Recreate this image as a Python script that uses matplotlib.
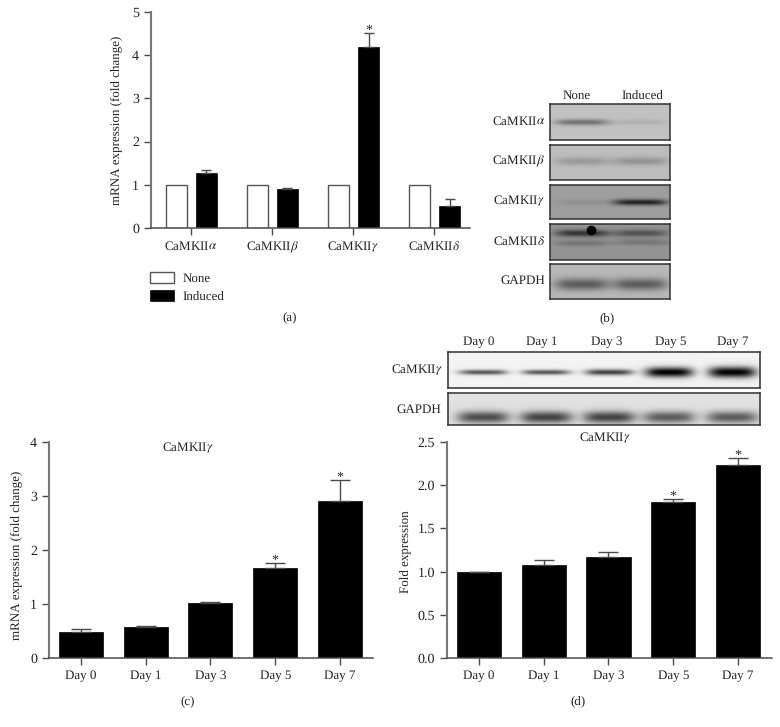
import numpy as np
import matplotlib
matplotlib.use('Agg')
import matplotlib.pyplot as plt

plt.rcParams['font.family'] = ['Liberation Serif', 'DejaVu Serif']
plt.rcParams['mathtext.fontset'] = 'stix'
plt.rcParams['font.size'] = 9
plt.rcParams['text.hinting'] = 'no_hinting'
plt.rcParams['text.hinting_factor'] = 1

# panel a
genes = [r'CaMKII$\alpha$', r'CaMKII$\beta$', r'CaMKII$\gamma$', r'CaMKII$\delta$']
none_vals = [1, 1, 1, 1]
induced_vals = [1.28, 0.90, 4.20, 0.52]
induced_err = [0.06, 0.02, 0.32, 0.14]
a_star = [False, False, True, False]

# panel c
days = ['Day 0', 'Day 1', 'Day 3', 'Day 5', 'Day 7']
mrna_vals = [0.49, 0.57, 1.02, 1.67, 2.90]
mrna_err = [0.05, 0.03, 0.02, 0.09, 0.40]
c_star = [False, False, False, True, True]

# panel d
fold_vals = [1.00, 1.08, 1.17, 1.81, 2.23]
fold_err = [0.0, 0.05, 0.06, 0.03, 0.09]
d_star = [False, False, False, True, True]

# blot band strengths (lane 1, lane 2 ...), read by eye
blot_b_rows = ['CaMKII$\\alpha$', 'CaMKII$\\beta$', 'CaMKII$\\gamma$', 'CaMKII$\\delta$', 'GAPDH']
blot_b_bg = [0.76, 0.74, 0.62, 0.58, 0.72]
blot_b_bands = [[0.32, 0.07], [0.14, 0.17], [0.05, 0.50], [0.38, 0.26], [0.36, 0.36]]
blot_d_bg = [0.95, 0.88]
blot_d_bands = [[0.62, 0.62, 0.70, 0.95, 0.95], [0.58, 0.62, 0.62, 0.52, 0.52]]
blot_d_thick = [2.5, 2.5, 3, 5, 5.5]

W, H = 780, 727
fig = plt.figure(figsize=(W / 100, H / 100), dpi=100)
AXC = '#4a4a4a'
TXT = '#222222'


def px_axes(x0, y0, x1, y1):
    return fig.add_axes([x0 / W, 1 - y1 / H, (x1 - x0) / W, (y1 - y0) / H])


def px_text(x, y, s, ha='center', **kw):
    fig.text(x / W, 1 - y / H, s, ha=ha, va='center', color=TXT, **kw)


def style(ax, ymax, yticks, ylabels, xlabels, xsize=9.5):
    for s in ['top', 'right']:
        ax.spines[s].set_visible(False)
    ax.spines['left'].set_linewidth(1.5)
    ax.spines['left'].set_color('#777777')
    ax.spines['bottom'].set_linewidth(1.1)
    ax.spines['bottom'].set_color(AXC)
    ax.set_ylim(0, ymax)
    ax.set_yticks(yticks)
    ax.set_yticklabels(ylabels, fontsize=10, color=TXT)
    ax.set_xticks(range(len(xlabels)))
    ax.set_xticklabels(xlabels, fontsize=xsize, color=TXT)
    ax.tick_params(axis='both', length=5, width=1, color=AXC, pad=3.5)
    ax.patch.set_alpha(0)


def stars(ax, xs, tops, flags):
    for x, t, f in zip(xs, tops, flags):
        if f:
            ax.annotate('*', (x, t), xytext=(0, -3), textcoords='offset points',
                        ha='center', va='bottom', fontsize=10, color=TXT)


def day_panel(ax, vals, err, flags, ymax, yticks, ylabels):
    x = np.arange(len(vals))
    ax.bar(x, vals, width=0.68, color='black', edgecolor='black', linewidth=0.5)
    ax.errorbar(x, vals, yerr=[np.zeros(len(err)), err], fmt='none', ecolor=AXC,
                elinewidth=1, capsize=7.5, capthick=1)
    style(ax, ymax, yticks, ylabels, days, xsize=9.2)
    ax.set_xlim(-0.494, 4.51)
    stars(ax, x, np.array(vals) + np.array(err), flags)


def blot(box, bg, lanes, strengths, band_y, band_h, band_w, extra=None):
    # band_h: one height for all lanes, or one per lane
    x0, y0, x1, y1 = box
    ax = px_axes(x0, y0, x1, y1)
    xx, yy = np.meshgrid(np.arange(x0, x1, 0.5), np.arange(y0, y1, 0.5))
    img = np.full(xx.shape, bg, dtype=float)
    hs = band_h if isinstance(band_h, list) else [band_h] * len(lanes)
    for c, s, hh in zip(lanes, strengths, hs):
        img -= s * np.exp(-((xx - c) / band_w) ** 4) * np.exp(-((yy - band_y) / hh) ** 2)
    if extra:
        for c, s, yy0, hh in extra:
            img -= s * np.exp(-((xx - c) / band_w) ** 4) * np.exp(-((yy - yy0) / hh) ** 2)
    ax.imshow(np.clip(img, 0, 1), cmap='gray', vmin=0, vmax=1, aspect='auto',
              extent=[x0, x1, y1, y0], interpolation='bilinear')
    ax.set_xticks([])
    ax.set_yticks([])
    for s in ax.spines.values():
        s.set_linewidth(1.1)
        s.set_color('#303030')
    return ax


# (a)
ax_a = px_axes(151, 12, 470, 228)
xa = np.arange(len(genes))
ax_a.bar(xa - 0.179, none_vals, width=0.259, color='white', edgecolor='#555555', linewidth=1)
ax_a.bar(xa + 0.191, induced_vals, width=0.259, color='black', edgecolor='black', linewidth=0.5)
ax_a.errorbar(xa + 0.191, induced_vals, yerr=[np.zeros(4), induced_err], fmt='none',
              ecolor=AXC, elinewidth=1, capsize=3.4, capthick=1)
style(ax_a, 5, [0, 1, 2, 3, 4, 5], ['0', '1', '2', '3', '4', '5'], genes)
ax_a.set_xlim(-0.494, 3.444)
stars(ax_a, xa + 0.191, np.array(induced_vals) + np.array(induced_err), a_star)
hb = [plt.Rectangle((0, 0), 1, 1, facecolor='white', edgecolor='#555555', linewidth=1),
      plt.Rectangle((0, 0), 1, 1, facecolor='black', edgecolor='black', linewidth=0.5)]
fig.legend(hb, ['None', 'Induced'], loc='upper left', bbox_to_anchor=(150 / W, 1 - 272 / H),
           frameon=False, borderpad=0, borderaxespad=0, handlelength=1.85, handleheight=0.9,
           handletextpad=0.65, labelspacing=0.42, fontsize=9.5, labelcolor=TXT)
px_text(116, 120, 'mRNA expression (fold change)', rotation=90, fontsize=9.7)
px_text(290, 317, '(a)', fontsize=9.5)

# (b)
px_text(577, 96, 'None')
px_text(642, 96, 'Induced')
b_boxes = [(550, 104, 670, 140), (550, 145, 670, 180), (550, 185, 670, 219),
           (550, 224, 670, 260), (550, 264, 670, 299)]
b_band_y = [122, 161, 202, 233, 284]
b_h = [3, 4, 3, 3.5, 6]
b_extra = [None, None, None, [(582, 0.12, 243, 3), (642, 0.12, 242, 3)], None]
for i, box in enumerate(b_boxes):
    ax = blot(box, blot_b_bg[i], [582, 640], blot_b_bands[i], b_band_y[i], b_h[i], 27, b_extra[i])
    px_text(545, (box[1] + box[3]) / 2 - 1, blot_b_rows[i], ha='right', fontsize=9.5)
    if i == 3:
        ax.plot([591], [230], 'o', color='black', ms=6)
        ax.set_xlim(550, 670)
        ax.set_ylim(260, 224)
px_text(607, 318, '(b)', fontsize=9.5)

# (c)
ax_c = px_axes(49, 442, 373, 658)
day_panel(ax_c, mrna_vals, mrna_err, c_star, 4, [0, 1, 2, 3, 4], ['0', '1', '2', '3', '4'])
px_text(188, 448, r'CaMKII$\gamma$', fontsize=9.5)
px_text(16, 555, 'mRNA expression (fold change)', rotation=90, fontsize=9.7)
px_text(188, 701, '(c)', fontsize=9.5)

# (d)
for x, d in zip([479, 542, 607, 671, 733], days):
    px_text(x, 342, d, fontsize=9.2)
lanes_d = [483, 546, 609, 669, 732]
blot((448, 352, 760, 388), blot_d_bg[0], lanes_d, blot_d_bands[0], 372, blot_d_thick, 24)
blot((448, 393, 760, 425), blot_d_bg[1], lanes_d, blot_d_bands[1], 417, 6, 26)
px_text(443, 370, r'CaMKII$\gamma$', ha='right', fontsize=9.5)
px_text(441, 410, 'GAPDH', ha='right', fontsize=9.5)
ax_d = px_axes(447, 442, 772, 658)
day_panel(ax_d, fold_vals, fold_err, d_star, 2.5, [0, 0.5, 1, 1.5, 2, 2.5],
          ['0.0', '0.5', '1.0', '1.5', '2.0', '2.5'])
ax_d.set_xlim(-0.494, 4.525)
px_text(605, 438, r'CaMKII$\gamma$', fontsize=9.5)
px_text(405, 552, 'Fold expression', rotation=90, fontsize=9.7)
px_text(578, 701, '(d)', fontsize=9.5)

fig.savefig('out.png', dpi=100)
